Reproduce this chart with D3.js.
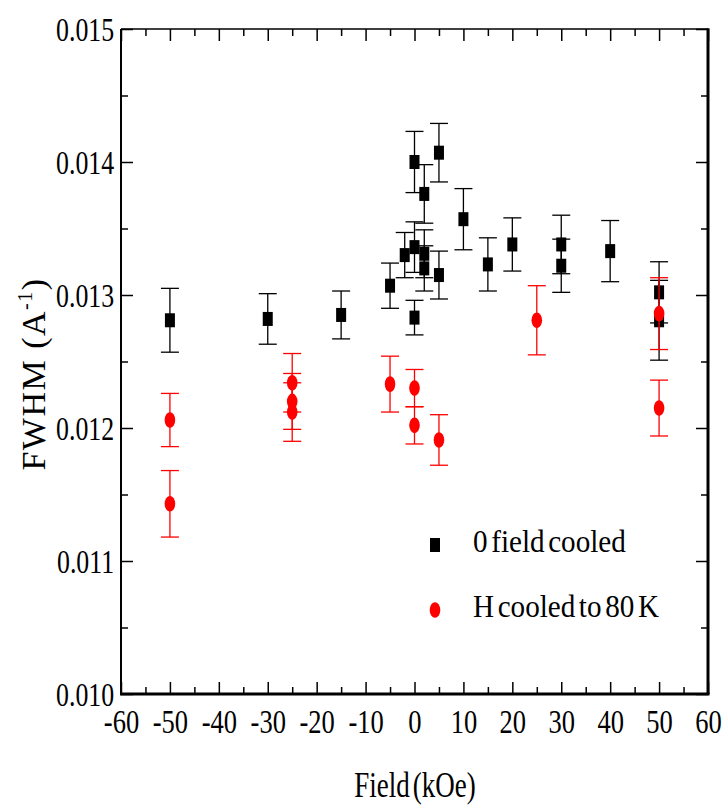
<!DOCTYPE html>
<html><head><meta charset="utf-8">
<script src="https://cdn.jsdelivr.net/npm/d3@7"></script>
<style>
html,body{margin:0;padding:0;background:#fff;}
text{font-family:"Liberation Serif","Times New Roman",serif;fill:#000;}
</style></head>
<body>
<svg id="chart" width="726" height="806"></svg>
<script>
// ---- data ----
const zfcField = [-50, -30, -15, -5, -2, 0, 0, 0, 2, 2, 2, 5, 5, 10, 15, 20, 30, 30, 40, 50, 50];
const zfcFwhm  = [0.01281, 0.01282, 0.01285, 0.01307, 0.01330, 0.01336, 0.01400, 0.01283, 0.01376, 0.01331, 0.01320, 0.01407, 0.01315, 0.01357, 0.01323, 0.01338, 0.01338, 0.01322, 0.01333, 0.01302, 0.01281];
const zfcErr   = [0.00024, 0.00019, 0.00018, 0.00017, 0.00017, 0.00019, 0.00023, 0.00013, 0.00022, 0.00018, 0.00017, 0.00022, 0.00018, 0.00023, 0.00020, 0.00020, 0.00022, 0.00020, 0.00023, 0.00023, 0.00030];

const fcField = [-50, -50, -25, -25, -25, -5, 0, 0, 5, 25, 50, 50];
const fcFwhm  = [0.01206, 0.01143, 0.01234, 0.01220, 0.01212, 0.01233, 0.01230, 0.01202, 0.01191, 0.01281, 0.01286, 0.01215];
const fcErr   = [0.00020, 0.00025, 0.00022, 0.00021, 0.00022, 0.00021, 0.00014, 0.00014, 0.00019, 0.00026, 0.00027, 0.00021];

const xTicks = [-60, -50, -40, -30, -20, -10, 0, 10, 20, 30, 40, 50, 60];
const yTicks = [0.010, 0.011, 0.012, 0.013, 0.014, 0.015];
const legendLabels = ["0 field cooled", "H cooled to 80 K"];

// ---- layout ----
const L = 121, R = 708, T = 29, B = 694;
const svg = d3.select("#chart");
const x = d3.scaleLinear().domain([-60, 60]).range([L, R]);
const y = d3.scaleLinear().domain([0.010, 0.015]).range([B, T]);

const xMinor = d3.range(-55, 60, 10);
const yMinor = d3.range(0.0105, 0.015, 0.001);

function styleAxis(g, w) {
  g.selectAll(".domain").remove();
  g.selectAll(".tick line").attr("stroke", "#000").attr("stroke-width", w);
}

// bottom axis
const gb = svg.append("g").attr("transform", `translate(0,${B})`)
  .call(d3.axisBottom(x).tickValues(xTicks).tickSize(-12).tickSizeOuter(0).tickPadding(15).tickFormat(d => String(d)));
styleAxis(gb, 1.5);
gb.selectAll(".tick text").attr("font-size", 34).attr("dy", "0.72em")
  .attr("transform", "scale(0.78,1)").style("font-family", '"Liberation Serif",serif');
svg.append("g").attr("transform", `translate(0,${B})`)
  .call(d3.axisBottom(x).tickValues(xMinor).tickSize(-7).tickFormat(""))
  .call(g => styleAxis(g, 1.5));

// top axis
svg.append("g").attr("transform", `translate(0,${T})`)
  .call(d3.axisTop(x).tickValues(xTicks).tickSize(-12).tickFormat(""))
  .call(g => styleAxis(g, 1.5));
svg.append("g").attr("transform", `translate(0,${T})`)
  .call(d3.axisTop(x).tickValues(xMinor).tickSize(-7).tickFormat(""))
  .call(g => styleAxis(g, 1.5));

// left axis
const gl = svg.append("g").attr("transform", `translate(${L},0)`)
  .call(d3.axisLeft(y).tickValues(yTicks).tickSize(-12).tickPadding(9).tickFormat(d3.format(".3f")));
styleAxis(gl, 1.5);
gl.selectAll(".tick text").attr("font-size", 34).attr("dy", "0.34em")
  .attr("transform", "scale(0.76,1)").style("font-family", '"Liberation Serif",serif');
svg.append("g").attr("transform", `translate(${L},0)`)
  .call(d3.axisLeft(y).tickValues(yMinor).tickSize(-7).tickFormat(""))
  .call(g => styleAxis(g, 1.5));

// right axis
svg.append("g").attr("transform", `translate(${R},0)`)
  .call(d3.axisRight(y).tickValues(yTicks).tickSize(-12).tickFormat(""))
  .call(g => styleAxis(g, 1.5));
svg.append("g").attr("transform", `translate(${R},0)`)
  .call(d3.axisRight(y).tickValues(yMinor).tickSize(-7).tickFormat(""))
  .call(g => styleAxis(g, 1.5));

// frame
svg.append("line").attr("x1", L).attr("x2", R).attr("y1", T).attr("y2", T).attr("stroke", "#000").attr("stroke-width", 1.5);
svg.append("line").attr("x1", L).attr("x2", L).attr("y1", T).attr("y2", B).attr("stroke", "#000").attr("stroke-width", 2);
svg.append("line").attr("x1", L - 1).attr("x2", R + 1.5).attr("y1", B).attr("y2", B).attr("stroke", "#000").attr("stroke-width", 3);
svg.append("line").attr("x1", R).attr("x2", R).attr("y1", T - 0.75).attr("y2", B).attr("stroke", "#000").attr("stroke-width", 3);

// series
const capW = 9;
function drawErr(fx, fy, fe, color) {
  const g = svg.append("g").attr("stroke", color).attr("stroke-width", 1.3).attr("fill", "none");
  fx.forEach((d, i) => {
    const cx = x(d), y1 = y(fy[i] + fe[i]), y2 = y(fy[i] - fe[i]);
    g.append("line").attr("x1", cx).attr("x2", cx).attr("y1", y1).attr("y2", y2);
    g.append("line").attr("x1", cx - capW).attr("x2", cx + capW).attr("y1", y1).attr("y2", y1);
    g.append("line").attr("x1", cx - capW).attr("x2", cx + capW).attr("y1", y2).attr("y2", y2);
  });
}
drawErr(zfcField, zfcFwhm, zfcErr, "#000");
svg.append("g").selectAll("rect").data(zfcField).join("rect")
  .attr("x", d => x(d) - 5).attr("y", (d, i) => y(zfcFwhm[i]) - 7)
  .attr("width", 10).attr("height", 14).attr("fill", "#000");

drawErr(fcField, fcFwhm, fcErr, "#ff0000");
svg.append("g").selectAll("ellipse").data(fcField).join("ellipse")
  .attr("cx", d => x(d)).attr("cy", (d, i) => y(fcFwhm[i]))
  .attr("rx", 5.3).attr("ry", 7.8).attr("fill", "#ff0000");

// legend
svg.append("rect").attr("x", 430).attr("y", 538).attr("width", 10).attr("height", 14).attr("fill", "#000");
svg.append("ellipse").attr("cx", 435).attr("cy", 610).attr("rx", 5.3).attr("ry", 7.8).attr("fill", "#ff0000");
svg.append("text").attr("transform", "translate(473,552) scale(0.91,1)").attr("font-size", 32).attr("word-spacing", -4).text(legendLabels[0]);
svg.append("text").attr("transform", "translate(473,617) scale(0.91,1)").attr("font-size", 32).attr("word-spacing", -4).text(legendLabels[1]);

// axis titles
svg.append("text").attr("transform", "translate(415,797) scale(0.75,1)").attr("text-anchor", "middle")
  .attr("font-size", 36).attr("word-spacing", -5).text("Field (kOe)");
const yt = svg.append("text").attr("transform", "translate(45,374) rotate(-90)").attr("text-anchor", "middle")
  .attr("font-size", 34).attr("letter-spacing", 1.5);
yt.append("tspan").text("FWHM (A");
yt.append("tspan").attr("dy", -13).attr("font-size", 20).text("-1");
yt.append("tspan").attr("dy", 13).text(")");
</script>
</body></html>
